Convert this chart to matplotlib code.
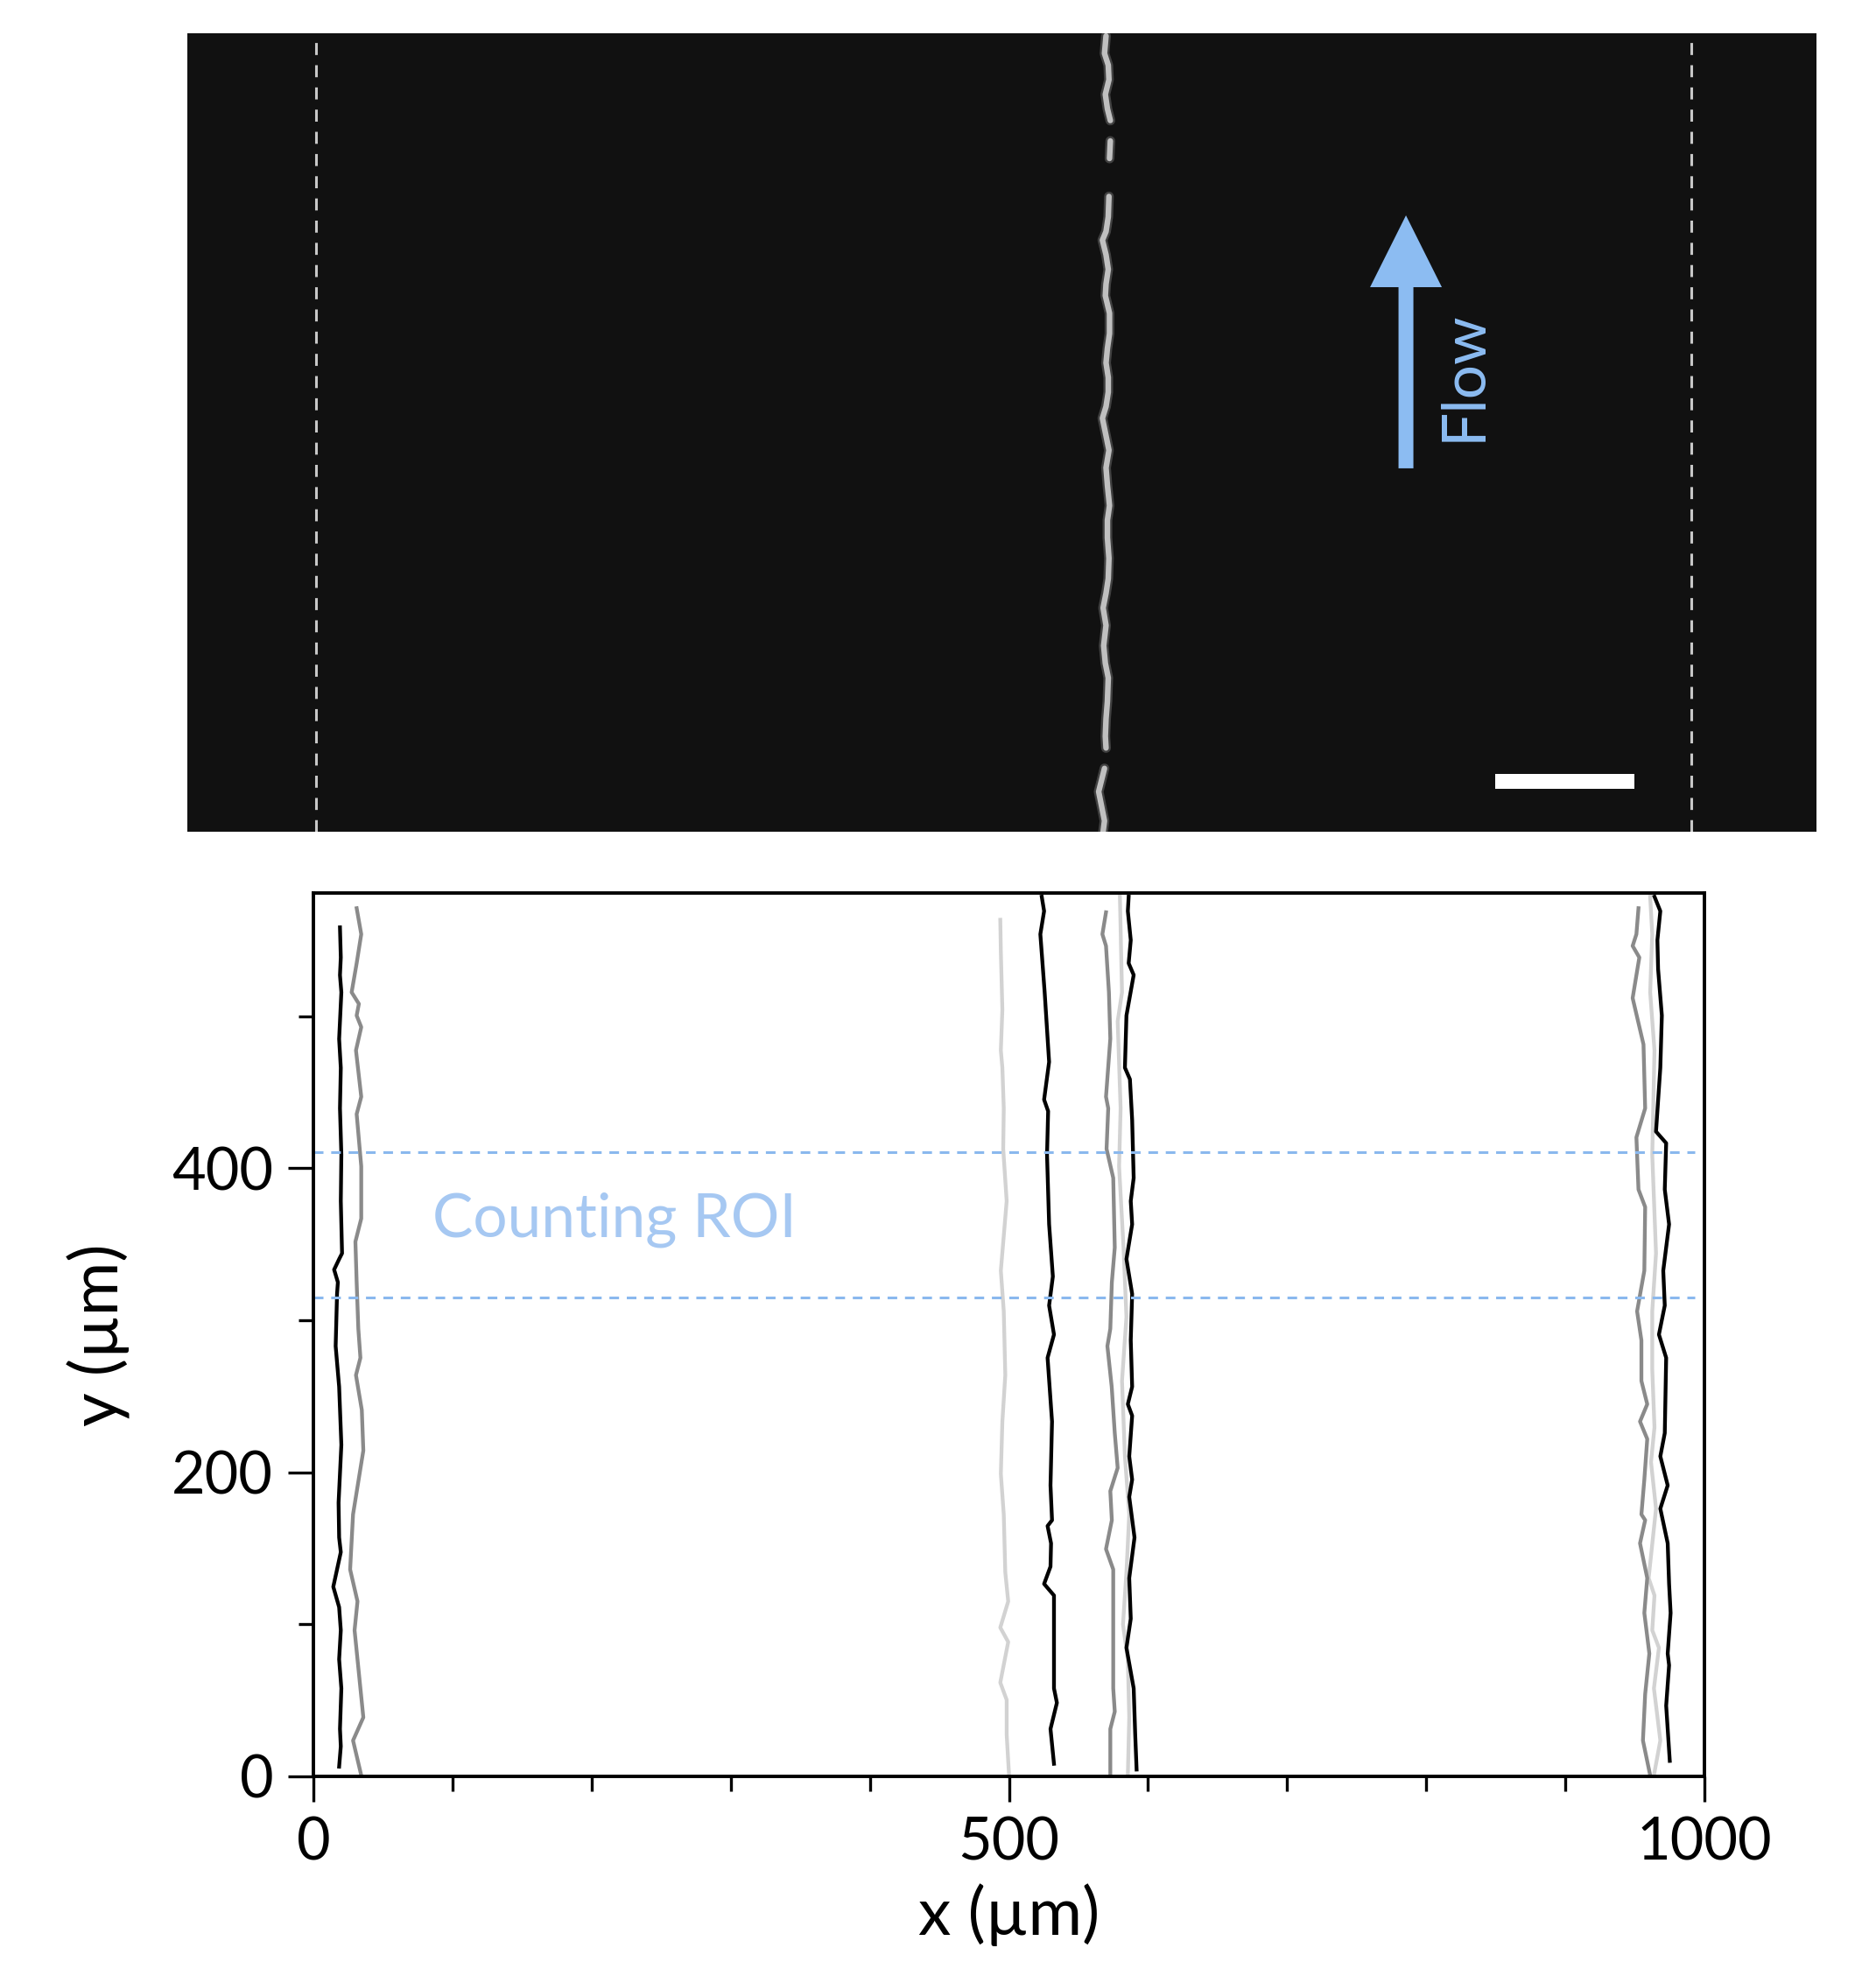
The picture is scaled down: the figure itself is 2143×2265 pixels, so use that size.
import matplotlib
matplotlib.use("Agg")
import matplotlib.pyplot as plt
from matplotlib.ticker import MultipleLocator, FixedLocator
from matplotlib.patches import Rectangle
import numpy as np

plt.rcParams['font.family'] = ['Lato', 'DejaVu Sans']

# ---------------- data (µm) ----------------
# group near x ~ 20-35
k1_x = [19.1, 19.7, 19.1, 20.1, 18.5, 19.7, 19.1, 20.1, 19.7, 20.6, 18.5, 14.9, 17.6, 17.0,
        16.0, 18.5, 20.1, 18.1, 18.5, 19.7, 14.3, 18.5, 19.7, 18.5, 20.1, 19.1, 19.7, 18.5]
k1_y = [558.4, 538.6, 527.0, 515.7, 485.0, 466.0, 439.4, 408.9, 378.4, 344.0, 340.2, 333.3, 325.0, 317.3,
        283.0, 256.3, 218.1, 180.0, 157.1, 147.5, 124.7, 111.3, 96.1, 77.0, 57.9, 31.2, 19.8, 6.4]
g1_x = [31.1, 34.4, 31.1, 27.5, 32.7, 31.1, 34.4, 30.6, 34.4, 31.1, 34.4, 34.4, 30.2, 31.1,
        32.3, 33.8, 30.6, 34.8, 35.9, 28.5, 26.4, 31.7, 29.6, 33.8, 35.9, 28.5, 34.4]
g1_y = [571.0, 553.9, 534.8, 515.7, 508.1, 500.4, 492.8, 477.5, 447.0, 435.6, 401.2, 366.9, 351.7, 324.9,
        294.4, 275.3, 263.9, 241.0, 214.3, 172.3, 136.1, 115.1, 96.1, 57.9, 38.8, 23.6, 0.7]
# group near x ~ 495-535
l2_x = [493.8, 494.2, 495.3, 494.2, 495.3, 496.3, 495.9, 498.4, 496.3, 494.2, 496.3, 497.4,
        495.3, 494.2, 496.3, 497.4, 499.5, 493.8, 499.5, 493.8, 498.4, 498.4, 500.1]
l2_y = [563.4, 542.4, 504.3, 477.5, 466.1, 439.4, 412.7, 378.4, 355.5, 332.6, 305.9, 263.9,
        233.4, 199.0, 172.3, 134.2, 115.1, 97.9, 88.4, 61.7, 50.3, 27.4, 0.8]
k2_x = [523.6, 525.3, 522.6, 525.7, 528.9, 525.3, 528.2, 527.4, 528.9, 531.6, 528.9, 532.4, 527.8,
        531.0, 529.9, 531.0, 527.8, 530.3, 529.9, 525.3, 532.4, 532.4, 534.5, 529.9, 532.4]
k2_y = [578.6, 569.1, 553.9, 515.7, 469.9, 445.1, 437.5, 408.9, 363.1, 328.8, 309.7, 290.6, 275.3,
        233.4, 191.4, 168.5, 164.7, 153.3, 138.0, 126.6, 119.0, 57.9, 48.4, 31.2, 8.3]
# group near x ~ 570-592
g3_x = [569.8, 567.2, 569.8, 571.9, 572.9, 569.8, 571.4, 570.2, 575.0, 576.1, 574.0, 572.9,
        570.8, 573.9, 576.1, 578.2, 572.9, 574.0, 569.8, 575.0, 575.0, 576.1, 572.9, 572.9]
g3_y = [568.3, 553.9, 546.2, 515.7, 485.2, 447.0, 439.4, 412.7, 393.6, 347.8, 324.9, 294.4,
        283.0, 256.3, 225.8, 202.9, 187.6, 168.5, 149.5, 136.1, 57.9, 42.6, 31.2, 0.7]
l3_x = [579.8, 581.3, 578.2, 580.3, 579.2, 582.4, 584.5, 581.3, 583.4, 586.5, 584.5, 582.0, 585.5, 586.5, 585.5]
l3_y = [578.6, 515.7, 496.6, 439.4, 401.2, 347.8, 302.1, 260.1, 210.5, 172.3, 134.2, 99.9, 77.0, 38.8, 0.7]
k3_x = [586.1, 585.5, 587.6, 586.1, 589.7, 584.5, 583.4, 587.0, 588.6, 589.7, 587.6, 588.6, 584.5, 588.6,
        587.6, 588.6, 585.5, 588.6, 586.5, 588.6, 586.5, 590.3, 586.5, 587.6, 584.5, 589.7, 590.8, 591.8]
k3_y = [578.6, 569.1, 550.0, 534.8, 527.1, 500.4, 466.1, 458.5, 431.8, 393.6, 378.4, 363.1, 340.2, 317.3,
        286.8, 256.3, 244.8, 237.2, 210.5, 195.2, 183.8, 157.1, 130.4, 103.7, 84.6, 57.9, 27.4, 4.5]
# group near x ~ 950-976
g4_x = [952.6, 951.1, 948.4, 953.2, 948.4, 956.2, 957.4, 951.1, 952.6, 957.4, 956.8, 951.6, 954.7, 954.7,
        958.9, 953.7, 958.9, 956.8, 954.7, 957.4, 953.7, 958.9, 956.8, 960.4, 957.4, 955.8, 961.0]
g4_y = [571.0, 553.9, 546.2, 538.6, 511.9, 481.4, 439.4, 420.3, 386.0, 374.5, 332.6, 305.9, 286.8, 260.1,
        244.8, 233.4, 221.9, 195.2, 172.3, 168.5, 153.3, 130.4, 107.5, 80.8, 54.1, 23.6, 0.7]
l4_x = [961.0, 962.5, 961.0, 964.1, 962.5, 965.2, 962.5, 962.5, 964.1, 961.6, 965.2, 959.9, 964.1,
        962.5, 967.3, 963.7, 968.3, 963.7]
l4_y = [578.6, 553.9, 515.7, 477.5, 408.9, 344.0, 305.9, 267.7, 229.6, 206.7, 176.1, 130.4, 119.0,
        96.1, 84.6, 57.9, 23.6, 0.7]
k4_x = [964.1, 968.3, 966.2, 966.7, 969.4, 968.3, 965.2, 972.5, 971.5, 974.6, 970.4, 971.5, 967.3,
        972.5, 971.5, 968.3, 973.6, 968.3, 973.6, 974.6, 975.7, 973.6, 974.6, 972.5, 975.1]
k4_y = [578.6, 569.1, 550.0, 531.0, 500.4, 466.1, 424.1, 416.5, 386.0, 363.1, 332.6, 309.7, 290.6,
        275.3, 225.8, 210.5, 191.4, 176.1, 153.3, 126.6, 107.5, 80.8, 73.1, 46.5, 10.2]

roi_y = [315.0, 410.5]
roi_label = "Counting ROI"

# fluorescent chain in the image (segments separated by NaN)
chain_x = [569.8, 568.7, 571.4, 571.9, 569.3, 570.8, 572.9, np.nan,
           572.9, 572.3, np.nan,
           571.9, 571.4, 569.8, 567.2, 569.8, 571.4, 569.8, 569.3, 572.3, 572.3,
           570.8, 569.8, 571.4, 571.4, 569.8, 567.2, 569.8,
           571.9, 569.8, 570.8, 572.3, 570.8, 570.8, 571.9, 571.4, 569.8, 567.7,
           569.8, 568.1, 569.3, 571.4, 570.8, 569.8, 569.3, 569.8, np.nan,
           568.7, 564.5, 566.6, 568.7, 567.7]
chain_y = [572.0, 559.4, 551.0, 540.5, 530.0, 519.6, 511.2, np.nan,
           496.5, 483.9, np.nan,
           456.6, 442.0, 431.4, 425.2, 414.7, 404.2, 393.7, 385.3, 372.7, 358.0,
           347.5, 337.0, 326.5, 316.0, 305.6, 297.2, 284.6,
           274.2, 261.6, 249.0, 234.4, 223.9, 211.3, 196.6, 181.9, 171.4, 160.9,
           148.3, 133.7, 121.1, 110.6, 93.8, 81.2, 68.6, 60.2, np.nan,
           45.5, 28.8, 18.3, 7.8, 0.0]
wall_x = [1.9, 990.6]
scalebar_um = 100

# ---------------- figure ----------------
W, H = 2143, 2265
fig = plt.figure(figsize=(W / 100, H / 100), dpi=100)
fig.patch.set_facecolor('white')

# top image panel
axi = fig.add_axes([214 / W, 1 - 950 / H, 1861 / W, 912 / H])
axi.set_facecolor('#111111')
axi.set_xlim(-90.6, 1080.5)
axi.set_ylim(0, 573.9)
axi.set_xticks([]); axi.set_yticks([])
for s in axi.spines.values():
    s.set_visible(False)
for wx in wall_x:
    axi.plot([wx, wx], [0, 573.9], color='#c8c8c8', lw=2.2, dashes=(4.5, 3.8))
axi.plot(chain_x, chain_y, color='#6a6a6a', lw=8, alpha=0.55, solid_capstyle='round')
axi.plot(chain_x, chain_y, color='#c0c0c0', lw=4.6, solid_capstyle='round')
flow_c = '#8cbcf2'
axi.arrow(785.4, 261.2, 0, 181.8, width=10.7, head_width=51.6, head_length=51.6,
          length_includes_head=True, color=flow_c, lw=0)
axi.text(827, 328, 'Flow', rotation=90, color=flow_c, fontsize=50,
         ha='center', va='center')
axi.add_patch(Rectangle((849.6, 31.1), scalebar_um, 10.7, color='white', lw=0))

# bottom trajectory plot
ax = fig.add_axes([358 / W, 1 - 2029 / H, 1589 / W, 1009 / H])
ax.set_xlim(0, 1000)
ax.set_ylim(0, 581)

lw = 3.1
cb, cg, cl = '#000000', '#8a8a8a', '#d2d2d2'
for xs, ys, c in [(l2_x, l2_y, cl), (l3_x, l3_y, cl), (l4_x, l4_y, cl),
                  (g1_x, g1_y, cg), (g3_x, g3_y, cg), (g4_x, g4_y, cg),
                  (k1_x, k1_y, cb), (k2_x, k2_y, cb), (k3_x, k3_y, cb), (k4_x, k4_y, cb)]:
    ax.plot(xs, ys, color=c, lw=lw)

roi_c = '#8ab8ee'
for ry in roi_y:
    ax.plot([0, 993], [ry, ry], color=roi_c, lw=2.2, dashes=(3.6, 2.9))
ax.text(85.6, 366, roi_label, color='#a6c8f2', fontsize=50, ha='left', va='center')

for s in ax.spines.values():
    s.set_linewidth(2.8)
ax.xaxis.set_major_locator(FixedLocator([0, 500, 1000]))
ax.xaxis.set_minor_locator(MultipleLocator(100))
ax.yaxis.set_major_locator(FixedLocator([0, 200, 400]))
ax.yaxis.set_minor_locator(FixedLocator([100, 300, 500]))
ax.tick_params(which='major', direction='out', length=21, width=2.4, labelsize=48, pad=12)
ax.tick_params(which='minor', direction='out', length=12, width=2.4)
ax.tick_params(top=False, right=False, which='both')
ax.set_xlabel('x (µm)', fontsize=54, labelpad=10)
ax.set_ylabel('y (µm)', fontsize=54, labelpad=34)

fig.savefig('out.png', dpi=100, facecolor='white')
